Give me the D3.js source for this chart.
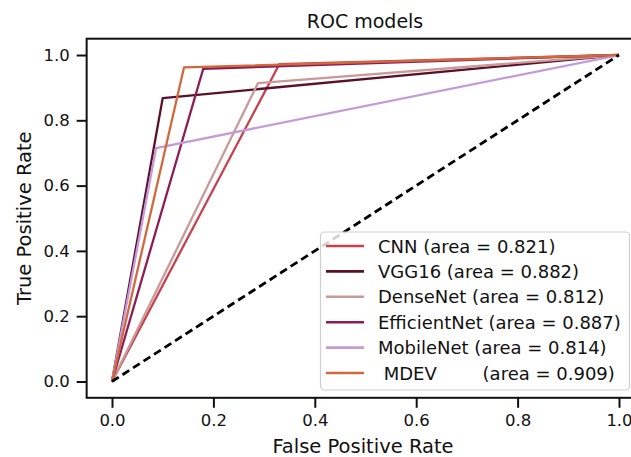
<!DOCTYPE html>
<html>
<head>
<meta charset="utf-8">
<script src="https://cdn.jsdelivr.net/npm/d3@7"></script>
<style>
  body { margin: 0; background: #fff; }
  svg { display: block; font-family: "DejaVu Sans", sans-serif; }
  .legend text { white-space: pre; }
</style>
</head>
<body>
<svg id="chart" width="631" height="457"></svg>
<script>
// model names, legend labels and the ROC points
var models = ["CNN", "VGG16", "DenseNet", "EfficientNet", "MobileNet", "MDEV"];
var legendLabels = [
    "CNN (area = 0.821)",
    "VGG16 (area = 0.882)",
    "DenseNet (area = 0.812)",
    "EfficientNet (area = 0.887)",
    "MobileNet (area = 0.814)",
    " MDEV        (area = 0.909)"
];
var colors = ["#c8404c", "#5a0f2a", "#c99a98", "#8e1c55", "#c49bd8", "#d2693c"];
var fprValues = [
    [0, 0.33, 1],
    [0, 0.10, 1],
    [0, 0.288, 1],
    [0, 0.18, 1],
    [0, 0.087, 1],
    [0, 0.142, 1]
];
var tprValues = [
    [0, 0.972, 1],
    [0, 0.868, 1],
    [0, 0.914, 1],
    [0, 0.958, 1],
    [0, 0.715, 1],
    [0, 0.962, 1]
];
var diagonal = [0, 1];
var tickValues = [0, 0.2, 0.4, 0.6, 0.8, 1.0];

var svg = d3.select("#chart");

var x = d3.scaleLinear().domain([-0.05, 1.05]).range([86.65, 644.35]);
var y = d3.scaleLinear().domain([-0.05, 1.05]).range([397.8, 38.7]);

/*
 * axes with ticks on the left and bottom
 */
function styleAxis(g) {
    g.attr("font-family", "DejaVu Sans, sans-serif");
    g.select(".domain").remove();
    g.selectAll("line").attr("stroke-width", 2).attr("stroke", "#111");
    g.selectAll("text").attr("font-size", 16.5).attr("fill", "#111");
}

svg.append("g")
    .attr("transform", "translate(0," + y(-0.05) + ")")
    .call(d3.axisBottom(x).tickValues(tickValues).tickFormat(d3.format(".1f"))
        .tickSize(10).tickPadding(6))
    .call(styleAxis);

svg.append("g")
    .attr("transform", "translate(" + x(-0.05) + ",0)")
    .call(d3.axisLeft(y).tickValues(tickValues).tickFormat(d3.format(".1f"))
        .tickSize(10).tickPadding(7))
    .call(styleAxis);

// ROC curves
var line = d3.line()
    .x(function(d) { return x(d[0]); })
    .y(function(d) { return y(d[1]); });

models.forEach(function(m, i) {
    var pts = d3.zip(fprValues[i], tprValues[i]);
    svg.append("path")
        .datum(pts)
        .attr("fill", "none")
        .attr("stroke", colors[i])
        .attr("stroke-width", 2.3)
        .attr("stroke-linejoin", "round")
        .attr("d", line);
});

// chance line
svg.append("path")
    .datum(d3.zip(diagonal, diagonal))
    .attr("fill", "none")
    .attr("stroke", "#000")
    .attr("stroke-width", 2.8)
    .attr("stroke-dasharray", "8,4.5")
    .attr("d", line);

// frame
svg.append("rect")
    .attr("x", x(-0.05))
    .attr("y", y(1.05))
    .attr("width", x(1.05) - x(-0.05))
    .attr("height", y(-0.05) - y(1.05))
    .attr("fill", "none")
    .attr("stroke", "#111")
    .attr("stroke-width", 2);

/*
 * legend box at lower right
 */
var legend = svg.append("g").attr("class", "legend");
legend.append("rect")
    .attr("x", 320.5)
    .attr("y", 232)
    .attr("width", 309)
    .attr("height", 158)
    .attr("rx", 4)
    .attr("fill", "#fff")
    .attr("fill-opacity", 0.82)
    .attr("stroke", "#cfcfcf")
    .attr("stroke-width", 1.2);

legendLabels.forEach(function(txt, i) {
    var ly = 246 + i * 25.4;
    legend.append("line")
        .attr("x1", 326).attr("x2", 364)
        .attr("y1", ly).attr("y2", ly)
        .attr("stroke", colors[i])
        .attr("stroke-width", 2.6);
    legend.append("text")
        .attr("x", 378)
        .attr("y", ly + 6.5)
        .attr("font-size", 18)
        .attr("fill", "#111")
        .attr("xml:space", "preserve")
        .text(txt);
});

// titles
svg.append("text")
    .attr("x", 365).attr("y", 28)
    .attr("text-anchor", "middle")
    .attr("font-size", 19)
    .attr("fill", "#111")
    .text("ROC models");

svg.append("text")
    .attr("x", 363).attr("y", 453)
    .attr("text-anchor", "middle")
    .attr("font-size", 19.5)
    .attr("fill", "#111")
    .text("False Positive Rate");

svg.append("text")
    .attr("transform", "translate(31," + y(0.5) + ") rotate(-90)")
    .attr("text-anchor", "middle")
    .attr("font-size", 19.5)
    .attr("fill", "#111")
    .text("True Positive Rate");
</script>
</body>
</html>
